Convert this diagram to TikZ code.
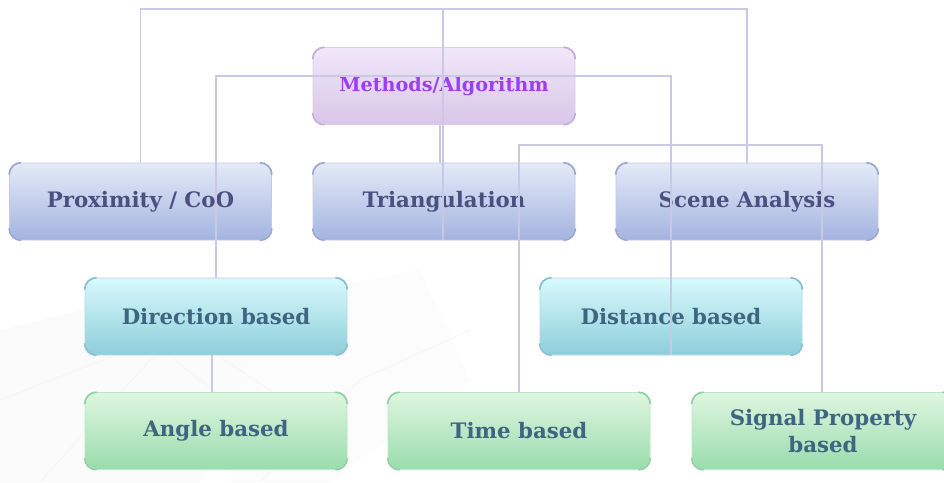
\documentclass[tikz,border=0pt]{standalone}
\usepackage{fontspec}
\setmainfont{DejaVu Serif}
\definecolor{linkc}{HTML}{C9C9E6}
\definecolor{purtop}{HTML}{F1E8FA}
\definecolor{purbot}{HTML}{D8C6E8}
\definecolor{purrim}{HTML}{C3ADDB}
\definecolor{purtext}{HTML}{9E3DF2}
\definecolor{blutop}{HTML}{E4EAF8}
\definecolor{blubot}{HTML}{A3B4E0}
\definecolor{blurim}{HTML}{9AA6D2}
\definecolor{blutext}{HTML}{4C5080}
\definecolor{cyatop}{HTML}{D8FAFC}
\definecolor{cyabot}{HTML}{8DCEDA}
\definecolor{cyarim}{HTML}{86BFD0}
\definecolor{grntop}{HTML}{DFF6E1}
\definecolor{grnbot}{HTML}{99DCAC}
\definecolor{grnrim}{HTML}{8DD3A0}
\definecolor{boxtext}{HTML}{3F6580}
\tikzset{
  box/.style={rounded corners=12pt, minimum width=262pt, minimum height=77pt,
    align=center, font=\bfseries\fontsize{21.3}{26.5}\selectfont, line width=0.8pt},
  purbox/.style={box, top color=purtop, bottom color=purbot, draw=purrim!60, text=purtext,
    font=\bfseries\fontsize{19.2}{23}\selectfont},
  blubox/.style={box, top color=blutop, bottom color=blubot, draw=blurim!60, text=blutext},
  cyabox/.style={box, top color=cyatop, bottom color=cyabot, draw=cyarim!60, text=boxtext},
  grnbox/.style={box, top color=grntop, bottom color=grnbot, draw=grnrim!60, text=boxtext},
  link/.style={draw=linkc, line width=1.4pt},
  texture/.style={draw=black!4, line width=0.7pt}
}
% bracket-like corner accents of a box
\newcommand{\rimcorners}[2]{%
  \draw[#2, line width=1.6pt] ([yshift=-12pt]#1.north west) arc(180:90:12pt);
  \draw[#2, line width=1.6pt] ([xshift=-12pt]#1.north east) arc(90:0:12pt);
  \draw[#2, line width=1.6pt] ([yshift=12pt]#1.south east) arc(0:-90:12pt);
  \draw[#2, line width=1.6pt] ([xshift=12pt]#1.south west) arc(270:180:12pt);
}
\begin{document}
\begin{tikzpicture}[x=1pt, y=-1pt]
\useasboundingbox (0,0) rectangle (944,482);
\clip (0,0) rectangle (944,482);
\fill[white] (0,0) rectangle (944,482);

% faint leafy texture in the lower left background
\fill[black!1.5] (0,330) -- (120,300) -- (260,360) -- (200,482) -- (0,482) -- cycle;
\fill[black!1.2] (250,300) -- (420,270) -- (470,380) -- (330,482) -- (230,482) -- cycle;
\draw[texture] (0,400) -- (180,330) -- (330,430);
\draw[texture] (40,482) -- (150,360) -- (300,300);
\draw[texture] (260,482) -- (360,380) -- (470,330);
\draw[texture] (100,300) -- (250,420);

% boxes
\node[purbox] (meth)  at (444,86)    {Methods/Algorithm};
\node[blubox] (prox)  at (140.5,201.5) {Proximity / CoO};
\node[blubox] (tri)   at (444,201.5) {Triangulation};
\node[blubox] (scene) at (747,201.5) {Scene Analysis};
\node[cyabox] (dir)   at (216,316.5) {Direction based};
\node[cyabox] (dist)  at (671,316.5) {Distance based};
\node[grnbox] (ang)   at (216,431)   {Angle based};
\node[grnbox] (time)  at (519,431)   {Time based};
\node[grnbox] (sig)   at (823,431)   {Signal Property\\based};

\rimcorners{meth}{purrim}
\rimcorners{prox}{blurim}
\rimcorners{tri}{blurim}
\rimcorners{scene}{blurim}
\rimcorners{dir}{cyarim}
\rimcorners{dist}{cyarim}
\rimcorners{ang}{grnrim}
\rimcorners{time}{grnrim}
\rimcorners{sig}{grnrim}

% bus coordinates of the three connector levels
\coordinate (busA) at (443,9);
\coordinate (busB) at (443,76);
\coordinate (busC) at (670,145);

% connectors
\draw[link] (prox.north) |- (busA) -| (scene.north);
\draw[link] (busA) -- (busA |- tri.south);
\draw[link] ([xshift=-4pt]meth.south) -- ([xshift=-4pt]tri.north);
\draw[link] (dir.north) |- (busB) -| (dist.south);
\draw[link] ([xshift=-4pt]dir.south) -- ([xshift=-4pt]ang.north);
\draw[link] (time.north) |- (busC) -| ([xshift=-1pt]sig.north);
\end{tikzpicture}
\end{document}
